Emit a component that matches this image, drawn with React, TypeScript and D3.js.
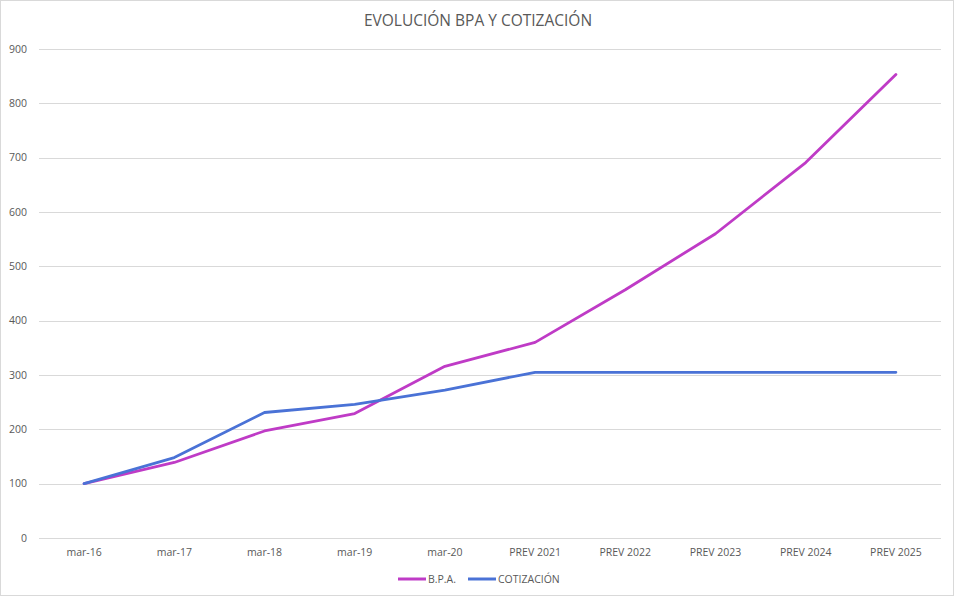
import { useEffect, useRef } from 'react';
import * as d3 from 'd3';

const categories = ['mar-16', 'mar-17', 'mar-18', 'mar-19', 'mar-20', 'PREV 2021', 'PREV 2022', 'PREV 2023', 'PREV 2024', 'PREV 2025'];
const bpa = [100, 139, 197, 229, 316, 360, 457, 560, 691, 853];
const cotizacion = [100, 148, 231, 246, 272, 305, 305, 305, 305, 305];
const yTicks = [0, 100, 200, 300, 400, 500, 600, 700, 800, 900];

const series = [
  { label: 'B.P.A.', values: bpa, color: '#BF3BC6' },
  { label: 'COTIZACIÓN', values: cotizacion, color: '#4A72D6' },
];

const width = 955;
const height = 596;
const font = '"Open Sans", "Liberation Sans", sans-serif';

export default function App() {
  const svgRef = useRef<SVGSVGElement>(null);

  useEffect(() => {
    if (!svgRef.current) return;
    const svg = d3.select(svgRef.current);
    svg.selectAll('*').remove();

    const margin = { top: 49, right: 14, bottom: 58, left: 39 };
    const innerW = width - margin.left - margin.right;
    const innerH = height - margin.top - margin.bottom;

    // chart frame
    svg.append('rect')
      .attr('x', 0.5).attr('y', 0.5)
      .attr('width', width - 2).attr('height', height - 1)
      .attr('fill', '#fff')
      .attr('stroke', '#d9d9d9');

    const g = svg.append('g').attr('transform', `translate(${margin.left},${margin.top})`);

    const x = d3.scaleBand<string>().domain(categories).range([0, innerW]);
    const y = d3.scaleLinear().domain([0, 900]).range([innerH, 0]);

    // grid
    g.append('g')
      .selectAll('line')
      .data(yTicks)
      .join('line')
      .attr('x1', 0).attr('x2', innerW)
      .attr('y1', d => Math.round(y(d)) + 0.5)
      .attr('y2', d => Math.round(y(d)) + 0.5)
      .attr('stroke', '#d9d9d9')
      .attr('stroke-width', 1);

    // y labels
    g.append('g')
      .selectAll('text')
      .data(yTicks)
      .join('text')
      .attr('x', -12)
      .attr('y', d => y(d))
      .attr('dy', '0.35em')
      .attr('text-anchor', 'end')
      .attr('fill', '#595959')
      .style('font-family', font)
      .style('font-size', '10.5px')
      .text(d => d);

    // x labels
    g.append('g')
      .selectAll('text')
      .data(categories)
      .join('text')
      .attr('x', d => x(d)! + x.bandwidth() / 2)
      .attr('y', innerH + 14)
      .attr('dy', '0.35em')
      .attr('text-anchor', 'middle')
      .attr('fill', '#595959')
      .style('font-family', font)
      .style('font-size', '10.5px')
      .text(d => d);

    const line = d3.line<number>()
      .x((_, i) => x(categories[i])! + x.bandwidth() / 2)
      .y(d => y(d));

    series.forEach(s => {
      g.append('path')
        .datum(s.values)
        .attr('fill', 'none')
        .attr('stroke', s.color)
        .attr('stroke-width', 2.8)
        .attr('stroke-linejoin', 'round')
        .attr('stroke-linecap', 'round')
        .attr('d', line);
    });

    // title
    svg.append('text')
      .attr('x', 478)
      .attr('y', 21)
      .attr('dy', '0.35em')
      .attr('text-anchor', 'middle')
      .attr('fill', '#595959')
      .style('font-family', font)
      .style('font-size', '15.5px')
      .text('EVOLUCIÓN BPA Y COTIZACIÓN');

    // legend
    const legendX = [398, 468];
    series.forEach((s, i) => {
      const row = svg.append('g').attr('transform', `translate(${legendX[i]},579)`);
      row.append('line')
        .attr('x1', 0).attr('x2', 28)
        .attr('y1', 0).attr('y2', 0)
        .attr('stroke', s.color)
        .attr('stroke-width', 3);
      row.append('text')
        .attr('x', 30)
        .attr('y', 0)
        .attr('dy', '0.35em')
        .attr('fill', '#595959')
        .style('font-family', font)
        .style('font-size', '10.5px')
        .text(s.label);
    });
  }, []);

  return (
    <svg
      ref={svgRef}
      width={width}
      height={height}
      style={{ position: 'absolute', left: 0, top: 0, display: 'block' }}
    />
  );
}
